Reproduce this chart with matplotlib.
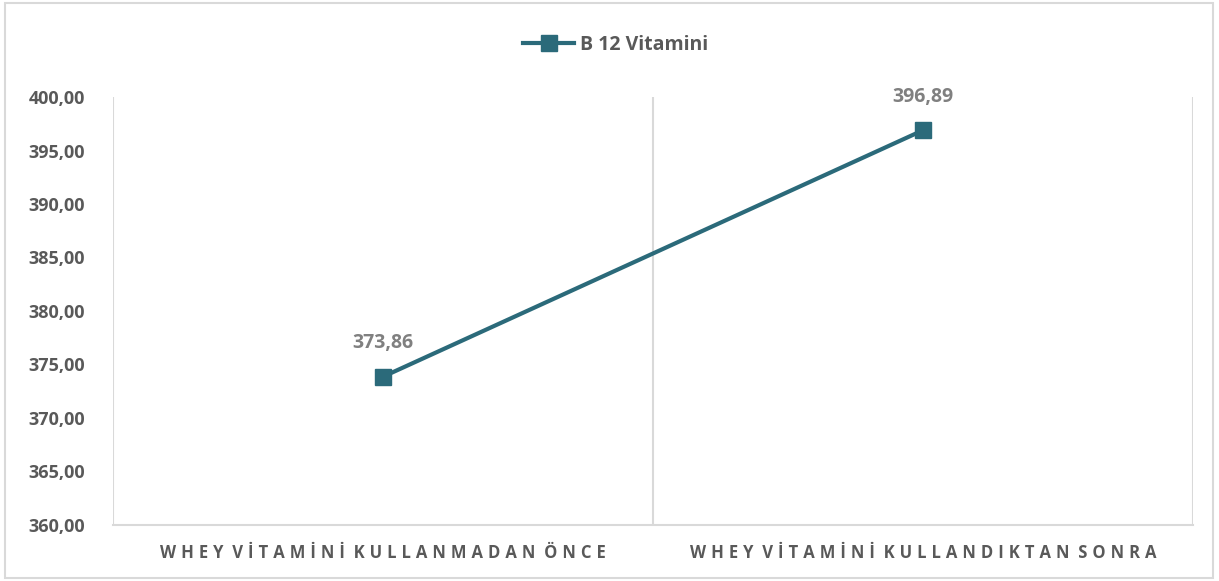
import matplotlib.pyplot as plt
from matplotlib.patches import Rectangle
from matplotlib.ticker import FuncFormatter

plt.rcParams['font.family'] = ['Open Sans', 'DejaVu Sans']

# Veriler
categories = ["WHEY VİTAMİNİ KULLANMADAN ÖNCE", "WHEY VİTAMİNİ KULLANDIKTAN SONRA"]
values = [373.86, 396.89]
series_name = "B 12 Vitamini"

LINE_COLOR = "#2B6A7A"
TEXT_COLOR = "#595959"
GRID_COLOR = "#D9D9D9"


def spaced(label):
    # harfler arasi bosluk (Excel'deki karakter araligi gibi)
    return "  ".join("\u2009\u200a".join(word) for word in label.split(" "))


def tr_num(v, pos=None):
    return f"{v:,.2f}".replace(",", "X").replace(".", ",").replace("X", ".")


fig = plt.figure(figsize=(12.19, 5.81), dpi=100)
ax = fig.add_axes([113 / 1219, 1 - 525 / 581, 1080 / 1219, 428 / 581])

x = list(range(len(categories)))
ax.plot(x, values, color=LINE_COLOR, linewidth=3, marker='s', markersize=12,
        label=series_name, zorder=3)

for xi, v in zip(x, values):
    ax.annotate(tr_num(v), (xi, v), xytext=(0, 17), textcoords='offset points',
                ha='center', va='bottom', fontsize=14, fontweight='bold', color="#808080")

ax.set_xlim(-0.5, len(categories) - 0.5)
ax.set_ylim(360, 400)
ax.set_yticks(range(360, 401, 5))
ax.yaxis.set_major_formatter(FuncFormatter(tr_num))

ax.set_xticks(x)
ax.set_xticklabels([spaced(c) for c in categories], fontsize=12, fontweight='bold',
                   color=TEXT_COLOR)
for b in [i - 0.5 for i in range(len(categories) + 1)]:
    ax.axvline(b, color=GRID_COLOR, linewidth=1.5, zorder=1)

for s in ['top', 'left', 'right']:
    ax.spines[s].set_visible(False)
ax.spines['bottom'].set_color(GRID_COLOR)
ax.spines['bottom'].set_linewidth(1.5)
ax.tick_params(axis='both', length=0)
ax.tick_params(axis='y', pad=20, labelsize=13, labelcolor=TEXT_COLOR)
ax.tick_params(axis='x', pad=14)
for lab in ax.get_yticklabels():
    lab.set_fontweight('bold')

leg = fig.legend(loc='center', bbox_to_anchor=(0.505, 1 - 45 / 581), frameon=False,
                 fontsize=14, handlelength=2.6, handletextpad=0.3)
for t in leg.get_texts():
    t.set_color(TEXT_COLOR)
    t.set_fontweight('bold')

fig.patches.append(Rectangle((5 / 1219, 3 / 581), 1208 / 1219, 575 / 581,
                             transform=fig.transFigure, fill=False,
                             edgecolor=GRID_COLOR, linewidth=1.5))

fig.savefig("out.png", dpi=100)
